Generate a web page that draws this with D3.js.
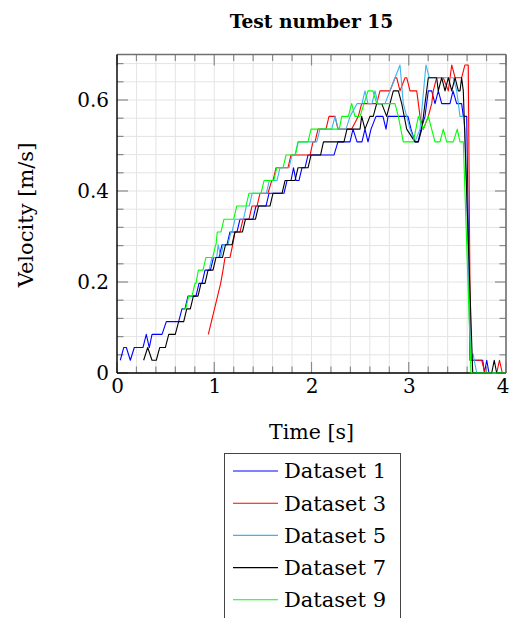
<!DOCTYPE html>
<html>
<head>
<meta charset="utf-8">
<script src="https://cdn.jsdelivr.net/npm/d3@7"></script>
<style>
  body { margin: 0; background: #fff; }
  svg { display: block; }
  text { font-family: "DejaVu Serif", serif; fill: #000; }
</style>
</head>
<body>
<svg id="chart" width="510" height="618"></svg>
<script>
// ---- data: [time (s), velocity (m/s)] vertices of each measured run ----
const seriesNames = ["Dataset 1", "Dataset 3", "Dataset 5", "Dataset 7", "Dataset 9"];
const seriesColors = ["#0000ff", "#ff0000", "#3ab4f2", "#000000", "#00ff00"];
const xTickValues = [0, 1, 2, 3, 4];
const yTickValues = [0, 0.2, 0.4, 0.6];

const dataset1 = [
  [0.034,0.028],[0.069,0.056],[0.096,0.056],[0.137,0.028],[0.178,0.056],[0.267,0.056],[0.301,0.085],
  [0.332,0.056],[0.360,0.085],[0.463,0.085],[0.507,0.113],[0.634,0.113],[0.668,0.141],[0.699,0.141],
  [0.730,0.169],[0.812,0.169],[0.843,0.197],[0.874,0.197],[0.905,0.226],[0.961,0.226],[0.992,0.254],
  [1.049,0.254],[1.080,0.282],[1.131,0.282],[1.162,0.310],[1.234,0.310],[1.265,0.338],[1.398,0.338],
  [1.429,0.367],[1.532,0.367],[1.563,0.395],[1.717,0.395],[1.748,0.423],[1.789,0.423],[1.815,0.451],
  [1.841,0.423],[1.871,0.423],[1.902,0.451],[1.933,0.451],[1.964,0.479],[2.231,0.479],[2.272,0.508],
  [2.396,0.508],[2.427,0.536],[2.468,0.508],[2.519,0.508],[2.550,0.536],[2.581,0.508],[2.612,0.536],
  [2.663,0.564],[2.735,0.564],[2.766,0.536],[2.787,0.564],[2.992,0.564],[3.023,0.536],[3.064,0.508],
  [3.095,0.508],[3.126,0.536],[3.167,0.564],[3.201,0.620],[3.236,0.620],[3.270,0.592],[3.304,0.620],
  [3.339,0.592],[3.424,0.592],[3.455,0.620],[3.493,0.592],[3.544,0.592],[3.561,0.564],[3.596,0.564],
  [3.630,0.028],[3.761,0.028],[3.778,0],[3.802,0.028],[3.825,0],[4.0,0]
];

const dataset3 = [
  [0.939,0.085],[1.066,0.197],[1.090,0.226],[1.111,0.254],[1.162,0.254],[1.190,0.282],[1.213,0.310],
  [1.265,0.310],[1.296,0.338],[1.357,0.338],[1.388,0.367],[1.440,0.367],[1.470,0.395],[1.552,0.395],
  [1.591,0.423],[1.604,0.423],[1.635,0.451],[1.758,0.451],[1.789,0.479],[1.985,0.479],[2.015,0.508],
  [2.036,0.508],[2.067,0.536],[2.149,0.536],[2.180,0.564],[2.242,0.564],[2.272,0.536],[2.413,0.536],
  [2.481,0.564],[2.516,0.592],[2.670,0.592],[2.704,0.620],[2.807,0.620],[2.859,0.649],[2.876,0.649],
  [2.910,0.620],[2.962,0.649],[2.979,0.649],[3.013,0.620],[3.082,0.620],[3.116,0.564],[3.150,0.536],
  [3.201,0.564],[3.236,0.592],[3.252,0.620],[3.287,0.649],[3.355,0.649],[3.407,0.620],[3.442,0.677],
  [3.476,0.649],[3.544,0.649],[3.578,0.677],[3.612,0.677],[3.635,0.028],[3.750,0.028],[3.784,0],
  [3.904,0],[3.933,0.028],[3.962,0],[4.0,0]
];

const dataset5 = [
  [0.946,0.226],[0.977,0.254],[1.025,0.254],[1.041,0.282],[1.066,0.254],[1.093,0.282],[1.141,0.282],
  [1.172,0.310],[1.183,0.310],[1.213,0.338],[1.300,0.338],[1.330,0.367],[1.360,0.367],[1.390,0.395],
  [1.535,0.395],[1.566,0.423],[1.645,0.423],[1.676,0.451],[1.769,0.451],[1.799,0.479],[1.830,0.479],
  [1.861,0.508],[2.054,0.508],[2.087,0.536],[2.208,0.536],[2.242,0.564],[2.276,0.536],[2.355,0.536],
  [2.396,0.564],[2.468,0.592],[2.519,0.592],[2.550,0.620],[2.581,0.592],[2.622,0.592],[2.653,0.620],
  [2.684,0.592],[2.756,0.592],[2.807,0.620],[2.859,0.649],[2.910,0.677],[2.944,0.592],[3.013,0.536],
  [3.064,0.508],[3.116,0.536],[3.177,0.677],[3.211,0.649],[3.458,0.649],[3.493,0.620],[3.527,0.564],
  [3.561,0.564],[3.578,0.536],[3.640,0.028],[3.661,0.042],[3.699,0],[4.0,0]
];

const dataset7 = [
  [0.274,0.028],[0.316,0.056],[0.360,0.028],[0.404,0.028],[0.439,0.056],[0.497,0.056],[0.532,0.085],
  [0.599,0.085],[0.634,0.113],[0.686,0.113],[0.717,0.141],[0.754,0.141],[0.785,0.169],[0.833,0.169],
  [0.864,0.197],[0.905,0.197],[0.936,0.226],[0.987,0.226],[1.018,0.254],[1.085,0.254],[1.116,0.282],
  [1.183,0.282],[1.213,0.310],[1.290,0.310],[1.321,0.338],[1.424,0.338],[1.455,0.367],[1.573,0.367],
  [1.604,0.395],[1.697,0.395],[1.728,0.423],[1.830,0.423],[1.861,0.451],[1.964,0.451],[1.995,0.479],
  [2.093,0.479],[2.123,0.508],[2.334,0.508],[2.365,0.536],[2.499,0.536],[2.516,0.564],[2.550,0.536],
  [2.601,0.564],[2.635,0.564],[2.670,0.592],[2.722,0.592],[2.773,0.564],[2.807,0.592],[2.841,0.620],
  [2.893,0.620],[2.928,0.592],[2.979,0.536],[3.064,0.508],[3.099,0.508],[3.134,0.536],[3.167,0.592],
  [3.201,0.649],[3.287,0.649],[3.304,0.620],[3.339,0.649],[3.373,0.620],[3.407,0.649],[3.442,0.620],
  [3.476,0.649],[3.510,0.620],[3.527,0.620],[3.544,0.649],[3.561,0.620],[3.658,0],[3.853,0],
  [3.879,0.028],[3.904,0],[4.0,0]
];

const dataset9 = [
  [0.679,0.141],[0.706,0.141],[0.737,0.169],[0.771,0.169],[0.802,0.197],[0.812,0.197],[0.836,0.226],
  [0.884,0.226],[0.915,0.254],[0.984,0.254],[1.015,0.282],[1.018,0.282],[1.031,0.310],[1.069,0.310],
  [1.100,0.338],[1.200,0.338],[1.231,0.367],[1.326,0.367],[1.357,0.395],[1.481,0.395],[1.512,0.423],
  [1.612,0.423],[1.642,0.451],[1.707,0.451],[1.738,0.479],[1.834,0.479],[1.864,0.508],[1.964,0.508],
  [1.995,0.536],[2.286,0.536],[2.311,0.564],[2.379,0.564],[2.413,0.592],[2.447,0.564],[2.499,0.564],
  [2.540,0.592],[2.581,0.620],[2.632,0.620],[2.670,0.592],[2.859,0.592],[2.893,0.564],[2.944,0.508],
  [3.047,0.508],[3.099,0.564],[3.150,0.536],[3.201,0.564],[3.270,0.508],[3.321,0.508],[3.355,0.536],
  [3.390,0.508],[3.458,0.508],[3.499,0.536],[3.527,0.508],[3.561,0.508],[3.640,0],[4.0,0]
];

const seriesData = [dataset1, dataset3, dataset5, dataset7, dataset9];

// ---- layout ----
const svg = d3.select("#chart");
const plot = { left: 117, right: 506, top: 54.5, bottom: 373 };
const x = d3.scaleLinear().domain([0, 4]).range([plot.left, plot.right]);
const y = d3.scaleLinear().domain([0, 0.7]).range([plot.bottom, plot.top]);

const xMinor = d3.range(0, 4.0001, 0.2);
const yMinor = d3.range(0, 0.7, 0.04);
const isMajorX = v => Math.abs(v - Math.round(v)) < 1e-6;
const isMajorY = v => Math.abs(v / 0.2 - Math.round(v / 0.2)) < 1e-6;

// grid
const grid = svg.append("g").attr("stroke", "#e4e4e4").attr("stroke-width", 1);
grid.selectAll("line.gx").data(xMinor).join("line")
  .attr("x1", d => x(d)).attr("x2", d => x(d))
  .attr("y1", plot.top).attr("y2", plot.bottom);
grid.selectAll("line.gy").data(yMinor).join("line")
  .attr("y1", d => y(d)).attr("y2", d => y(d))
  .attr("x1", plot.left).attr("x2", plot.right);

// inward tick marks on all four sides
const ticks = svg.append("g").attr("stroke", "#8a8a8a").attr("stroke-width", 1.2);
const tl = v => v ? 11 : 6.5;
xMinor.forEach(v => {
  const len = tl(isMajorX(v));
  ticks.append("line").attr("x1", x(v)).attr("x2", x(v)).attr("y1", plot.bottom).attr("y2", plot.bottom - len);
  ticks.append("line").attr("x1", x(v)).attr("x2", x(v)).attr("y1", plot.top).attr("y2", plot.top + len);
});
yMinor.forEach(v => {
  const len = tl(isMajorY(v));
  ticks.append("line").attr("y1", y(v)).attr("y2", y(v)).attr("x1", plot.left).attr("x2", plot.left + len);
  ticks.append("line").attr("y1", y(v)).attr("y2", y(v)).attr("x1", plot.right).attr("x2", plot.right - len);
});

// frame
svg.append("line").attr("x1", plot.left).attr("x2", plot.right).attr("y1", plot.top).attr("y2", plot.top)
  .attr("stroke", "#707070").attr("stroke-width", 1.6);
svg.append("line").attr("x1", plot.right).attr("x2", plot.right).attr("y1", plot.top).attr("y2", plot.bottom)
  .attr("stroke", "#707070").attr("stroke-width", 1.6);
svg.append("line").attr("x1", plot.left).attr("x2", plot.right).attr("y1", plot.bottom).attr("y2", plot.bottom)
  .attr("stroke", "#000").attr("stroke-width", 1.4);
svg.append("line").attr("x1", plot.left).attr("x2", plot.left).attr("y1", plot.top).attr("y2", plot.bottom)
  .attr("stroke", "#000").attr("stroke-width", 1.4);

// axis labels via d3 axes
const xAxis = d3.axisBottom(x).tickValues(xTickValues).tickSize(0).tickPadding(6)
  .tickFormat(d3.format("d"));
const gx = svg.append("g").attr("transform", `translate(0,${plot.bottom})`).call(xAxis);
const yAxis = d3.axisLeft(y).tickValues(yTickValues).tickSize(0).tickPadding(8)
  .tickFormat(d => d === 0 ? "0" : d3.format(".1f")(d));
const gy = svg.append("g").attr("transform", `translate(${plot.left},0)`).call(yAxis);
[gx, gy].forEach(g => {
  g.select(".domain").remove();
  g.selectAll("text").attr("font-family", "DejaVu Serif").attr("font-size", 20).attr("fill", "#000");
});
// keep the last x label inside the canvas
gx.selectAll(".tick text").filter(d => d === 4).attr("x", -3.5);

// data lines
const line = d3.line().x(d => x(d[0])).y(d => y(d[1]));
seriesData.forEach((data, i) => {
  svg.append("path").datum(data)
    .attr("fill", "none")
    .attr("stroke", seriesColors[i])
    .attr("stroke-width", 1.1)
    .attr("stroke-linejoin", "round")
    .attr("d", line);
});

// titles
svg.append("text").attr("x", 311.5).attr("y", 21).attr("dy", "0.35em")
  .attr("text-anchor", "middle").attr("font-weight", "bold").attr("font-size", 18.7)
  .text("Test number 15");
svg.append("text").attr("x", 311.5).attr("y", 432).attr("dy", "0.35em")
  .attr("text-anchor", "middle").attr("font-size", 20.5)
  .text("Time [s]");
svg.append("text").attr("transform", "translate(26,215) rotate(-90)").attr("dy", "0.35em")
  .attr("text-anchor", "middle").attr("font-size", 21)
  .text("Velocity [m/s]");

// legend
const legend = svg.append("g");
legend.append("rect").attr("x", 224.5).attr("y", 453.5).attr("width", 176).attr("height", 200)
  .attr("fill", "#fff").attr("stroke", "#444").attr("stroke-width", 1);
seriesNames.forEach((name, i) => {
  const cy = 471 + i * 32.2;
  legend.append("line").attr("x1", 233).attr("x2", 278).attr("y1", cy).attr("y2", cy)
    .attr("stroke", seriesColors[i]).attr("stroke-width", 1.1);
  legend.append("text").attr("x", 284).attr("y", cy).attr("dy", "0.35em")
    .attr("font-size", 21).text(name);
});
</script>
</body>
</html>
